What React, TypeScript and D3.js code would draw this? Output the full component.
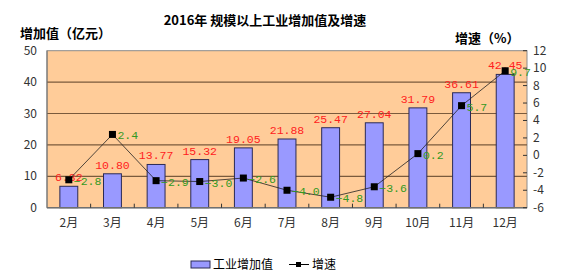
import React from "react";
import * as d3 from "d3";

// chart data
const months = ["2月", "3月", "4月", "5月", "6月", "7月", "8月", "9月", "10月", "11月", "12月"];
const addedValue = [6.82, 10.8, 13.77, 15.32, 19.05, 21.88, 25.47, 27.04, 31.79, 36.61, 42.45];
const growth = [-2.8, 2.4, -2.9, -3.0, -2.6, -4.0, -4.8, -3.6, 0.2, 5.7, 9.7];
const leftTicks = [0, 10, 20, 30, 40, 50];
const rightTicks = [-6, -4, -2, 0, 2, 4, 6, 8, 10, 12];

const W = 568;
const H = 279;
const plot = { left: 47, right: 527, top: 50.7, bottom: 207.7 };
const cjk = "'Noto Sans CJK SC', 'Noto Sans', sans-serif";
const num = "'Liberation Mono', 'DejaVu Sans Mono', monospace";

export default function App() {
  const x = d3
    .scaleBand<string>()
    .domain(months)
    .range([plot.left, plot.right])
    .paddingInner(0.59)
    .paddingOuter(0.295);
  const band = d3.scaleBand<string>().domain(months).range([plot.left, plot.right]);
  const yL = d3.scaleLinear().domain([0, 50]).range([plot.bottom, plot.top]);
  const yR = d3.scaleLinear().domain([-6, 12]).range([plot.bottom, plot.top]);

  const cx = (m: string) => (band(m) ?? 0) + band.bandwidth() / 2;
  const line = d3
    .line<number>()
    .x((_, i) => cx(months[i]))
    .y((d) => yR(d));

  const fmt = d3.format(".2f");
  const fmt1 = d3.format(".1f");

  return (
    <svg width={W} height={H} style={{ position: "absolute", left: 0, top: 0, background: "#fff" }}>
      {/* titles */}
      <text x={265} y={25} textAnchor="middle" fontFamily={cjk} fontWeight="bold" fontSize={13} fill="#000">
        2016年 规模以上工业增加值及增速
      </text>
      <text x={20} y={38} fontFamily={cjk} fontWeight="bold" fontSize={13} fill="#000">
        增加值（亿元）
      </text>
      <text x={455} y={43} fontFamily={cjk} fontWeight="bold" fontSize={13} fill="#000">
        增速（%）
      </text>

      {/* plot background */}
      <rect
        x={plot.left}
        y={plot.top}
        width={plot.right - plot.left}
        height={plot.bottom - plot.top}
        fill="#FFCC99"
        stroke="#8c8c8c"
        strokeWidth={1}
      />
      {leftTicks
        .filter((t) => t > 0 && t < 50)
        .map((t) => (
          <line key={t} x1={plot.left} x2={plot.right} y1={yL(t)} y2={yL(t)} stroke="#7a5a3c" strokeWidth={1.2} />
        ))}

      {/* bars */}
      {addedValue.map((v, i) => (
        <rect
          key={months[i]}
          x={x(months[i])}
          y={yL(v)}
          width={x.bandwidth()}
          height={yL(0) - yL(v)}
          fill="#9999FF"
          stroke="#2a2a55"
          strokeWidth={1}
        />
      ))}

      {/* axes */}
      <line x1={plot.left} x2={plot.right} y1={plot.bottom} y2={plot.bottom} stroke="#707070" strokeWidth={1.5} />
      <line x1={plot.left} x2={plot.left} y1={plot.top} y2={plot.bottom} stroke="#707070" strokeWidth={1} />
      {months.slice(1).map((m) => (
        <line key={m} x1={band(m)} x2={band(m)} y1={plot.bottom} y2={plot.bottom - 4} stroke="#333" />
      ))}
      {rightTicks.map((t) => (
        <line key={t} x1={plot.right} x2={plot.right - 4} y1={yR(t)} y2={yR(t)} stroke="#333" />
      ))}
      {leftTicks.map((t) => (
        <text key={t} x={37} y={yL(t) + 4} textAnchor="end" fontFamily={cjk} fontSize={12} fill="#333">
          {t}
        </text>
      ))}
      {rightTicks.map((t) => (
        <text key={t} x={533} y={yR(t) + 4} fontFamily={cjk} fontSize={12} fill="#333">
          {t}
        </text>
      ))}
      {months.map((m) => (
        <text key={m} x={cx(m)} y={227} textAnchor="middle" fontFamily={cjk} fontSize={12} fill="#333">
          {m}
        </text>
      ))}

      {/* bar value labels */}
      {addedValue.map((v, i) => (
        <text
          key={months[i]}
          x={cx(months[i])}
          y={yL(v) - 5}
          textAnchor="middle"
          fontFamily={num}
          fontSize={11.5}
          fill="#FF2020"
        >
          {fmt(v)}
        </text>
      ))}

      {/* growth line */}
      <path d={line(growth) ?? ""} fill="none" stroke="#222" strokeWidth={0.8} />
      {growth.map((g, i) => (
        <rect key={months[i]} x={cx(months[i]) - 3.5} y={yR(g) - 3.5} width={7} height={7} fill="#000" />
      ))}
      {growth.map((g, i) => (
        <text key={months[i]} x={cx(months[i]) + 5} y={yR(g) + 5} fontFamily={num} fontSize={11.5} fill="#339922">
          {fmt1(g)}
        </text>
      ))}

      {/* legend */}
      <rect x={191} y={261} width={19} height={7} fill="#9999FF" stroke="#2a2a55" />
      <text x={213} y={269} fontFamily={cjk} fontSize={12} fill="#000">
        工业增加值
      </text>
      <line x1={289} x2={309} y1={264.5} y2={264.5} stroke="#000" />
      <rect x={296} y={262} width={5} height={5} fill="#000" />
      <text x={312} y={269} fontFamily={cjk} fontSize={12} fill="#000">
        增速
      </text>
    </svg>
  );
}
